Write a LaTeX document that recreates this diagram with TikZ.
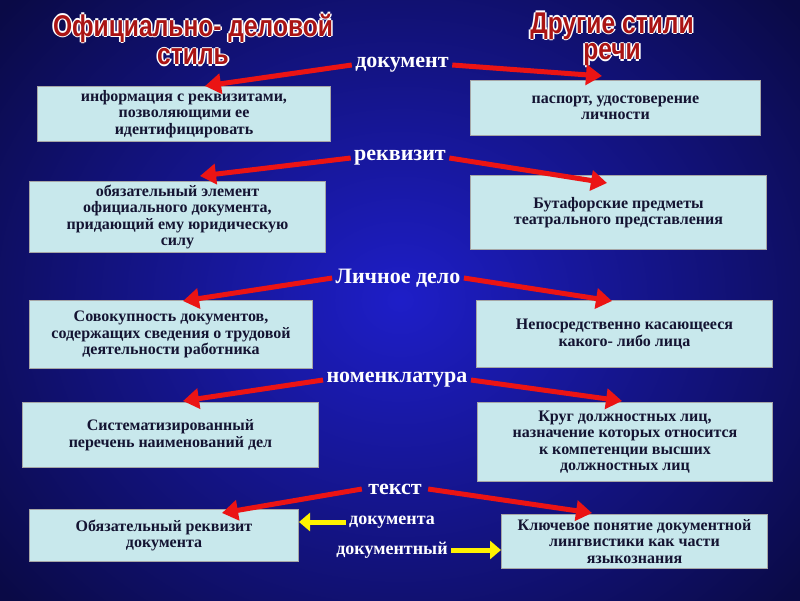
\documentclass[tikz,border=0pt]{standalone}
\usepackage{fontspec}
\setmainfont{Liberation Serif}
\newfontfamily\titlefont{Liberation Sans}
\usetikzlibrary{arrows.meta}
\definecolor{boxc}{RGB}{200,232,236}
\definecolor{txtc}{RGB}{20,20,50}
\definecolor{redar}{RGB}{235,20,20}
\definecolor{ttl}{RGB}{170,20,20}
\tikzset{
  box/.style={draw=gray!70, line width=1pt, fill=boxc, inner sep=2pt, align=center, text=txtc,
    font=\bfseries\fontsize{16}{16.5}\selectfont, anchor=north west},
  lab/.style={text=white, font=\bfseries\fontsize{22}{22}\selectfont},
  sublab/.style={text=white, font=\bfseries\fontsize{18}{18}\selectfont},
  rarrow/.style={draw=redar, line width=5pt, -{Triangle[length=16pt,width=20pt]}},
  yarrow/.style={draw=yellow, line width=5pt, -{Triangle[length=11pt,width=18pt]}},
  ttlfont/.style={font=\titlefont\bfseries\fontsize{30}{30}\selectfont, xscale=0.82},
}
\newcommand{\ttlnode}[3]{%
  \foreach \dx/\dy in {-1.6/0,1.6/0,0/-1.6,0/1.6}
    {\node[text=white, ttlfont] at ([shift={(\dx,\dy)}]#1) {#2};}
  \node[text=ttl, ttlfont] (#3) at (#1) {#2};}
\begin{document}
\begin{tikzpicture}[x=1pt,y=-1pt]
\useasboundingbox (0,0) rectangle (800,600);
\shade[inner color={rgb,255:red,30;green,30;blue,200}, outer color={rgb,255:red,10;green,10;blue,70}] (-120,-150) rectangle (920,750);
\ttlnode{193,28}{Официально- деловой}{t1}
\ttlnode{193,57}{стиль}{t2}
\ttlnode{612,26}{Другие стили}{t3}
\ttlnode{612,55}{речи}{t4}

\node[box, minimum width=293pt, minimum height=55pt] (b1) at (37,86) {информация с реквизитами,\\позволяющими ее\\идентифицировать};
\node[box, minimum width=290pt, minimum height=55pt] (b2) at (470,80) {паспорт, удостоверение\\личности};
\node[box, minimum width=296pt, minimum height=71pt] (b3) at (29,181) {обязательный элемент\\официального документа,\\придающий ему юридическую\\силу};
\node[box, minimum width=296pt, minimum height=74pt] (b4) at (470,175) {Бутафорские предметы\\театрального представления};
\node[box, minimum width=283pt, minimum height=68pt] (b5) at (29,300) {Совокупность документов,\\содержащих сведения о трудовой\\деятельности работника};
\node[box, minimum width=296pt, minimum height=67pt] (b6) at (476,300) {Непосредственно касающееся\\какого- либо лица};
\node[box, minimum width=296pt, minimum height=65pt] (b7) at (22,402) {Систематизированный\\перечень наименований дел};
\node[box, minimum width=295pt, minimum height=79pt] (b8) at (477,402) {Круг должностных лиц,\\назначение которых относится\\к компетенции высших\\должностных лиц};
\node[box, minimum width=269pt, minimum height=52pt] (b9) at (29,509) {Обязательный реквизит\\документа};
\node[box, minimum width=266pt, minimum height=54pt] (b10) at (501,514) {Ключевое понятие документной\\лингвистики как части\\языкознания};

\node[lab] (l1) at (402,65) {документ};
\node[lab] (l2) at (400,158) {реквизит};
\node[lab] (l3) at (398,278) {Личное дело};
\node[lab] (l4) at (397,380) {номенклатура};
\node[lab] (l5) at (395,489) {текст};
\node[sublab] (l6) at (392,522) {документа};
\node[sublab] (l7) at (392,550) {документный};

\coordinate (a1) at (205,86); \coordinate (a2) at (602,76);
\coordinate (a3) at (200,176); \coordinate (a4) at (607,183);
\coordinate (a5) at (183,301); \coordinate (a6) at (612,301);
\coordinate (a7) at (183,401); \coordinate (a8) at (622,401);
\coordinate (a9) at (222,513); \coordinate (a10) at (592,513);
\draw[rarrow] (l1.west) -- (a1);
\draw[rarrow] (l1.east) -- (a2);
\draw[rarrow] (l2.west) -- (a3);
\draw[rarrow] (l2.east) -- (a4);
\draw[rarrow] (l3.west) -- (a5);
\draw[rarrow] (l3.east) -- (a6);
\draw[rarrow] (l4.west) -- (a7);
\draw[rarrow] (l4.east) -- (a8);
\draw[rarrow] ([xshift=-3pt]l5.west) -- (a9);
\draw[rarrow] ([xshift=3pt]l5.east) -- (a10);
\draw[yarrow] (l6.west) -- (b9.east |- l6.west);
\draw[yarrow] (l7.east) -- (b10.west |- l7.east);
\end{tikzpicture}
\end{document}
